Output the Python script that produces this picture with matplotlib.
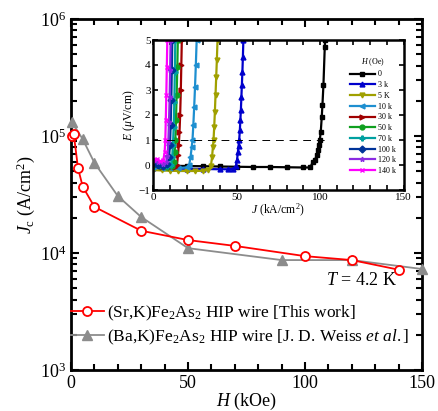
import numpy as np
import matplotlib
matplotlib.use('Agg')
from matplotlib import pyplot as plt
from matplotlib.ticker import MultipleLocator, LogLocator, NullFormatter

plt.rcParams['font.family'] = ['Liberation Serif', 'DejaVu Serif']
plt.rcParams['mathtext.fontset'] = 'custom'
plt.rcParams['mathtext.rm'] = 'Liberation Serif'
plt.rcParams['mathtext.it'] = 'Liberation Serif:italic'
plt.rcParams['mathtext.bf'] = 'Liberation Serif:bold'

# main panel: Jc vs H at 4.2 K
h_sr = [0.3, 1.2, 3, 5, 10, 30, 50, 70, 100, 120, 140]
jc_sr = [1.0e5, 1.03e5, 5.3e4, 3.7e4, 2.48e4, 1.55e4, 1.29e4, 1.15e4, 9.4e3, 8.7e3, 7.2e3]
h_ba = [0.3, 5, 10, 20, 30, 50, 90, 120, 150]
jc_ba = [1.32e5, 9.4e4, 5.9e4, 3.07e4, 2.03e4, 1.1e4, 8.7e3, 8.7e3, 7.3e3]

# inset: E-J curves at different fields
field_labels = ['0', '3 k', '5 K', '10 k', '30 k', '50 k', '70 k', '100 k', '120 k', '140 k']
j_0 = [0, 10, 20, 30, 40, 50, 60, 70, 80, 90, 94, 95.8, 96.8, 98.2, 98.8, 99.4, 99.8, 100.4, 101, 101.4, 102, 102.8, 103]
e_0 = [-0.02, -0.03, -0.04, -0.05, -0.06, -0.07, -0.08, -0.08, -0.09, -0.1, -0.1, 0.13, 0.2, 0.4, 0.6, 0.8, 1.0, 1.33, 1.93, 2.4, 3.2, 4.73, 5.0]
j_3k = [0, 10, 20, 30, 40, 45, 48, 49.5, 50.2, 50.7, 51.1, 51.5, 51.9, 52.2, 52.5, 52.8, 53.1, 53.4, 53.7, 54]
e_3k = [-0.12, -0.14, -0.15, -0.16, -0.17, -0.17, -0.15, -0.05, 0.2, 0.5, 0.75, 1.0, 1.4, 1.8, 2.2, 2.7, 3.2, 3.7, 4.3, 5.0]
j_5k = [0, 5, 10, 15, 20, 25, 30, 33, 34.5, 35.2, 35.7, 36.1, 36.5, 36.9, 37.3, 37.7, 38.1, 38.5]
e_5k = [-0.2, -0.22, -0.23, -0.24, -0.24, -0.24, -0.23, -0.2, -0.05, 0.3, 0.7, 1.0, 1.5, 2.1, 2.8, 3.5, 4.2, 5.0]
j_10k = [0, 5, 10, 15, 20, 21.5, 22.3, 23, 23.5, 24, 24.5, 25, 25.5, 26]
e_10k = [-0.1, -0.12, -0.13, -0.12, -0.1, 0.0, 0.3, 0.7, 1.0, 1.6, 2.3, 3.1, 4.0, 5.0]
j_30k = [0, 5, 10, 13, 14.2, 14.8, 15.3, 15.7, 16.1, 16.5, 16.8, 17.1]
e_30k = [-0.05, -0.08, -0.1, -0.1, 0.0, 0.4, 0.8, 1.3, 2.0, 3.0, 4.0, 5.0]
j_50k = [0, 4, 8, 11, 12.2, 12.8, 13.2, 13.6, 14, 14.4, 14.7]
e_50k = [0.0, -0.05, -0.08, -0.05, 0.1, 0.5, 1.0, 1.8, 2.8, 3.9, 5.0]
j_70k = [0, 4, 8, 10.5, 11.3, 11.8, 12.2, 12.6, 12.9, 13.2]
e_70k = [0.02, -0.02, -0.05, 0.0, 0.3, 0.8, 1.5, 2.5, 3.7, 5.0]
j_100k = [0, 3, 6, 8.5, 9.4, 10, 10.4, 10.8, 11.1, 11.4]
e_100k = [0.05, 0.0, -0.03, 0.05, 0.3, 0.8, 1.6, 2.6, 3.8, 5.0]
j_120k = [0, 3, 6, 7.8, 8.5, 9, 9.4, 9.8, 10.1, 10.4]
e_120k = [0.15, 0.1, 0.05, 0.1, 0.35, 0.9, 1.7, 2.7, 3.8, 5.0]
j_140k = [0, 2, 4, 6, 6.8, 7.2, 7.5, 7.8, 8.1, 8.4]
e_140k = [0.2, 0.25, 0.15, 0.2, 0.5, 1.0, 1.8, 2.8, 3.9, 5.0]

curves = [(j_0, e_0), (j_3k, e_3k), (j_5k, e_5k), (j_10k, e_10k), (j_30k, e_30k),
          (j_50k, e_50k), (j_70k, e_70k), (j_100k, e_100k), (j_120k, e_120k), (j_140k, e_140k)]
colors = ['black', '#0000CC', '#A0A000', '#1E8FD0', '#A00000',
          '#10A020', '#00A0A0', '#003399', '#8A2BE2', '#FF00FF']
markers = ['s', '^', 'v', '<', '>', 'o', 'P', 'D', '*', 'x']

fig = plt.figure(figsize=(4.38, 4.11), dpi=100)
ax = fig.add_axes([71/438, 1-370/411, 351/438, 351/411])

ax.plot(h_sr, jc_sr, color='#FF0000', marker='o', mfc='white', mec='#FF0000',
        ms=6.5, mew=1.3, lw=1.3, clip_on=False, zorder=4,
        label='(Sr,K)Fe$_2$As$_2$ HIP wire [This work]')
ax.plot(h_ba, jc_ba, color='#8C8C8C', marker='^', mfc='#8C8C8C', mec='#8C8C8C',
        ms=6.5, lw=1.3, clip_on=False, zorder=3,
        label='(Ba,K)Fe$_2$As$_2$ HIP wire [J. D. Weiss $et\\ al.$]')

ax.set_yscale('log')
ax.set_xlim(0, 150)
ax.set_ylim(1e3, 1e6)
ax.xaxis.set_major_locator(MultipleLocator(50))
ax.xaxis.set_minor_locator(MultipleLocator(10))
ax.yaxis.set_minor_locator(LogLocator(base=10, subs=np.arange(2, 10)))
ax.yaxis.set_minor_formatter(NullFormatter())
ax.tick_params(which='both', direction='in', top=True, right=True, width=1.5, labelsize=13)
ax.tick_params(which='major', length=6)
ax.tick_params(which='minor', length=4)
for s in ax.spines.values():
    s.set_linewidth(2)

ax.set_xlabel('$H$ (kOe)', fontsize=13, labelpad=-1)
ax.set_ylabel('$J_\\mathrm{c}$ (A/cm$^2$)', fontsize=13, labelpad=2)
ax.text(124, 5.8e3, '$T$ = 4.2 K', fontsize=13, ha='center', va='center')

ax.legend(loc='lower left', bbox_to_anchor=(0.0, 0.065), frameon=False, fontsize=12.5,
          borderpad=0, borderaxespad=0, handlelength=1.9, handletextpad=0.15, labelspacing=0.3)

# inset
ins = fig.add_axes([153.3/438, 1-190/411, 250.2/438, 150/411])
for (j, e), c, m, lab in zip(curves, colors, markers, field_labels):
    ins.plot(j, e, color=c, marker=m, ms=3.5, mew=1, lw=1.6, label=lab)
ins.hlines(1, 0, 105, colors='black', linestyles=(0, (8, 6)), lw=0.7)
ins.set_xlim(0, 150)
ins.set_ylim(-1, 5)
ins.xaxis.set_major_locator(MultipleLocator(50))
ins.xaxis.set_minor_locator(MultipleLocator(10))
ins.yaxis.set_major_locator(MultipleLocator(1))
ins.tick_params(which='both', direction='in', top=True, right=True, width=1.2, labelsize=8, pad=2)
ins.tick_params(which='major', length=3.5)
ins.tick_params(which='minor', length=3.5)
for s in ins.spines.values():
    s.set_linewidth(1.8)
ins.set_xlabel('$J$ (kA/cm$^2$)', fontsize=8.5, labelpad=0)
ins.set_ylabel('$E$ ($\\mu$V/cm)', fontsize=8.5, labelpad=1)
leg = ins.legend(loc='upper right', bbox_to_anchor=(0.985, 0.92), frameon=False, fontsize=5.8,
                 title='$H$ (Oe)', title_fontsize=5.8, borderpad=0, handlelength=3.2,
                 handletextpad=0.3, labelspacing=0.34)

plt.savefig('out.png', dpi=100)
